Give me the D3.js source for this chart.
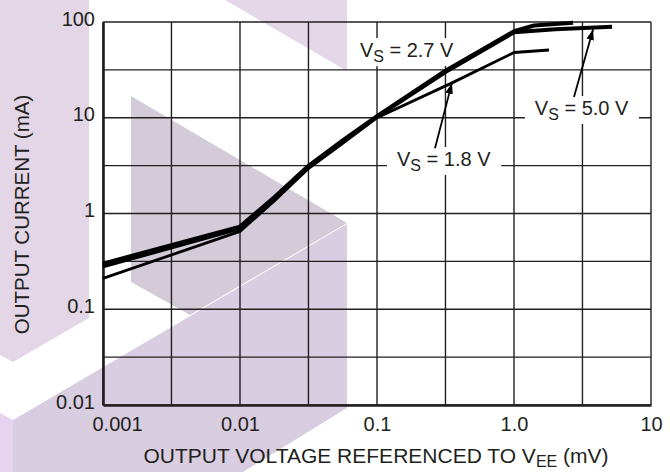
<!DOCTYPE html>
<html>
<head>
<meta charset="utf-8">
<script src="https://cdn.jsdelivr.net/npm/d3@7"></script>
<style>
body { margin: 0; background: #fff; }
svg { display: block; font-family: "Liberation Sans", Arial, Helvetica, sans-serif; }
</style>
</head>
<body>
<svg id="chart" width="670" height="472"></svg>
<script>
// axis ticks and grid
const xTicks = [0.001, 0.01, 0.1, 1, 10];
const xTickLabels = ["0.001", "0.01", "0.1", "1.0", "10"];
const yTicks = [0.01, 0.1, 1, 10, 100];
const yTickLabels = ["0.01", "0.1", "1", "10", "100"];
const xGrid = [0.001, 0.00316, 0.01, 0.0316, 0.1, 0.316, 1, 3.16, 10];
const yGrid = [0.01, 0.0316, 0.1, 0.316, 1, 3.16, 10, 31.6, 100];

// curves (mV -> mA)
const vs18X = [0.001, 0.01, 0.0178, 0.0316, 0.0562, 0.1, 0.35, 1.0, 1.8];
const vs18Y = [0.21, 0.65, 1.35, 2.95, 5.4, 10, 23, 48, 51];
const vs27X = [0.001, 0.01, 0.0178, 0.0316, 0.0562, 0.1, 0.316, 1.0, 1.4, 2.7];
const vs27Y = [0.30, 0.73, 1.48, 3.15, 5.8, 10.4, 31, 80, 92, 98];
const vs50X = [0.001, 0.01, 0.0178, 0.0316, 0.0562, 0.1, 0.316, 1.0, 2.0, 5.2];
const vs50Y = [0.28, 0.70, 1.42, 3.05, 5.6, 10.2, 30, 78, 84, 89];

// annotation labels: text, anchor point (x, y baseline) and arrow from/to
const labelNames = ["2.7 V", "1.8 V", "5.0 V"];
const labelX = [0.075, 0.14, 1.42];
const labelY = [43, 3.13, 10.7];
const arrowFrom = [null, [0.265, 4.8], [2.74, 16.5]];
const arrowTo = [null, [0.352, 23], [3.78, 84]];

const margin = {left: 103, top: 22, right: 19, bottom: 67};
const plotW = 548, plotH = 383;

const svg = d3.select("#chart");

// faint logo watermark behind the chart
const watermark = [
  {fill: "#e2d6e7", pts: [[0,0],[89,0],[89,318],[13,362],[0,355]]},
  {fill: "#e3d7e8", pts: [[225,0],[347,0],[347,71]]},
  {fill: "#d9cde1", pts: [[13,420],[347,224],[347,408],[243,472],[13,472]]},
  {fill: "#d4cbd9", pts: [[131,96],[347,223],[190,315],[131,282]]},
  {fill: "#e7d2ef", pts: [[0,413],[13,420],[13,472],[0,472]]}
];
svg.append("g").selectAll("polygon")
  .data(watermark)
  .join("polygon")
    .attr("points", d => d.pts.map(p => p.join(",")).join(" "))
    .attr("fill", d => d.fill);

const x = d3.scaleLog().domain([0.001, 10]).range([margin.left, margin.left + plotW]);
const y = d3.scaleLog().domain([0.01, 100]).range([margin.top + plotH, margin.top]);

// grid
const grid = svg.append("g").attr("stroke", "#231f20").attr("stroke-width", 1.4);
grid.selectAll(".vx").data(xGrid).join("line")
  .attr("x1", d => x(d)).attr("x2", d => x(d))
  .attr("y1", y(100)).attr("y2", y(0.01));
grid.selectAll(".hy").data(yGrid).join("line")
  .attr("y1", d => y(d)).attr("y2", d => y(d))
  .attr("x1", x(0.001)).attr("x2", x(10));

// axes
const xAxis = svg.append("g")
  .attr("transform", "translate(0," + y(0.01) + ")")
  .call(d3.axisBottom(x).tickValues(xTicks)
    .tickFormat((d, i) => xTickLabels[i]).tickSize(0).tickSizeOuter(0).tickPadding(12));
xAxis.attr("font-family", null);
xAxis.select(".domain").attr("stroke", "#231f20").attr("stroke-width", 2.6);
xAxis.selectAll("text").attr("font-size", 20).attr("fill", "#231f20");
// first label sits to the right of the corner
xAxis.selectAll(".tick").filter((d, i) => i === 0).select("text").attr("dx", 14);

const yAxis = svg.append("g")
  .attr("transform", "translate(" + x(0.001) + ",0)")
  .call(d3.axisLeft(y).tickValues(yTicks)
    .tickFormat((d, i) => yTickLabels[i]).tickSize(0).tickSizeOuter(0).tickPadding(8));
yAxis.attr("font-family", null);
yAxis.select(".domain").attr("stroke", "#231f20").attr("stroke-width", 2.6);
yAxis.selectAll("text").attr("font-size", 20).attr("fill", "#231f20").attr("dy", "0.16em");

// labels with white knock-out boxes (under the curves)
const ann = svg.append("g");
labelNames.forEach((name, i) => {
  const g = ann.append("g");
  const t = g.append("text")
    .attr("x", x(labelX[i])).attr("y", y(labelY[i]))
    .attr("font-size", 20).attr("fill", "#231f20");
  t.append("tspan").text("V");
  t.append("tspan").text("S").attr("font-size", 16).attr("dy", 5);
  t.append("tspan").text(" = " + name).attr("dy", -5);
  const b = t.node().getBBox();
  g.insert("rect", "text")
    .attr("x", b.x - 10).attr("y", b.y - 1)
    .attr("width", b.width + 20).attr("height", b.height + 2)
    .attr("fill", "#fff");
});

// curves
const line = d3.line().x(d => x(d[0])).y(d => y(d[1]));
const series = [
  {xs: vs50X, ys: vs50Y, w: 4},
  {xs: vs27X, ys: vs27Y, w: 4},
  {xs: vs18X, ys: vs18Y, w: 2.8}
];
svg.append("g").selectAll("path")
  .data(series)
  .join("path")
    .attr("d", s => line(s.xs.map((v, i) => [v, s.ys[i]])))
    .attr("fill", "none")
    .attr("stroke", "#000")
    .attr("stroke-width", s => s.w)
    .attr("stroke-linejoin", "round")
    .attr("stroke-linecap", "butt");

// arrows
svg.append("defs").append("marker")
  .attr("id", "head")
  .attr("viewBox", "0 0 10 10")
  .attr("refX", 10).attr("refY", 5)
  .attr("markerWidth", 6).attr("markerHeight", 6)
  .attr("markerUnits", "strokeWidth")
  .attr("orient", "auto")
  .append("path").attr("d", "M0,1.5L10,5L0,8.5z").attr("fill", "#000");

arrowFrom.forEach((f, i) => {
  if (!f) return;
  const t = arrowTo[i];
  svg.append("line")
    .attr("x1", x(f[0])).attr("y1", y(f[1]))
    .attr("x2", x(t[0])).attr("y2", y(t[1]))
    .attr("stroke", "#000").attr("stroke-width", 1.8)
    .attr("marker-end", "url(#head)");
});

// axis titles
svg.append("text")
  .attr("transform", "translate(29," + (margin.top + plotH / 2 + 1) + ") rotate(-90)")
  .attr("text-anchor", "middle")
  .attr("font-size", 20.5).attr("fill", "#231f20")
  .text("OUTPUT CURRENT (mA)");

const xt = svg.append("text")
  .attr("x", 376).attr("y", 463)
  .attr("text-anchor", "middle")
  .attr("font-size", 21).attr("fill", "#231f20");
xt.append("tspan").text("OUTPUT VOLTAGE REFERENCED TO V");
xt.append("tspan").text("EE").attr("font-size", 16).attr("dy", 4);
xt.append("tspan").text(" (mV)").attr("dy", -4);
</script>
</body>
</html>
